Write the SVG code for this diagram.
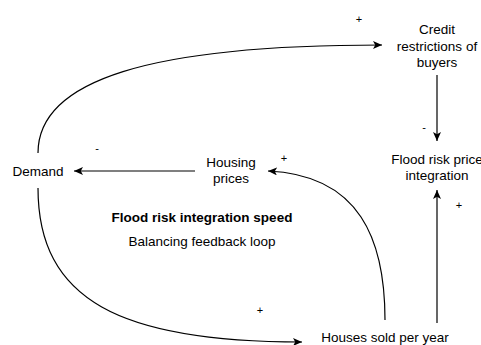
<svg xmlns="http://www.w3.org/2000/svg" width="481" height="345" viewBox="0 0 481 345">
  <style>
    text { font-family: "Liberation Sans", Arial, sans-serif; font-size: 13.5px; fill: #000; text-anchor: middle; }
    .title { font-weight: bold; }
    .sign { font-size: 11px; }
    .link { fill: none; stroke: #000; stroke-width: 1.2; marker-end: url(#arrow); }
  </style>
  <defs>
    <marker id="arrow" markerUnits="userSpaceOnUse" markerWidth="10" markerHeight="10" refX="9" refY="4" orient="auto">
      <path d="M0,0 L9,4 L0,8 L2.2,4 z" fill="#000"/>
    </marker>
  </defs>
  <rect width="481" height="345" fill="#fff"/>

  <g id="connectors">
    <!-- Demand -> Credit restrictions -->
    <path class="link" d="M38,153 C38,80 150,45 382,45"/>
    <!-- Demand -> Houses sold -->
    <path class="link" d="M38,188 C38,300 120,342 302,342"/>
    <!-- Housing prices -> Demand -->
    <path class="link" d="M195,171 L74,171"/>
    <!-- Houses sold -> Housing prices -->
    <path class="link" d="M385,320 C385,240 360,175 268,171"/>
    <!-- Credit restrictions -> Flood risk price integration -->
    <path class="link" d="M437,75 L437,141"/>
    <!-- Houses sold -> Flood risk price integration -->
    <path class="link" d="M437,323 L437,190"/>
  </g>

  <g id="signs">
    <text class="sign" x="359" y="23">+</text>
    <text class="sign" x="97" y="152">-</text>
    <text class="sign" x="284" y="162">+</text>
    <text class="sign" x="424" y="131">-</text>
    <text class="sign" x="459" y="209">+</text>
    <text class="sign" x="260" y="314">+</text>
  </g>

  <g id="node-demand">
    <text x="38" y="176">Demand</text>
  </g>
  <g id="node-housing-prices">
    <text x="231" y="167">Housing</text>
    <text x="231" y="183">prices</text>
  </g>
  <g id="node-credit-restrictions">
    <text x="437" y="34">Credit</text>
    <text x="437" y="51">restrictions of</text>
    <text x="437" y="67">buyers</text>
  </g>
  <g id="node-flood-risk-price">
    <text x="437" y="164">Flood risk price</text>
    <text x="437" y="180">integration</text>
  </g>
  <g id="node-houses-sold">
    <text x="385" y="342">Houses sold per year</text>
  </g>
  <g id="loop-label">
    <text class="title" x="202" y="222">Flood risk integration speed</text>
    <text x="202" y="246">Balancing feedback loop</text>
  </g>
</svg>
